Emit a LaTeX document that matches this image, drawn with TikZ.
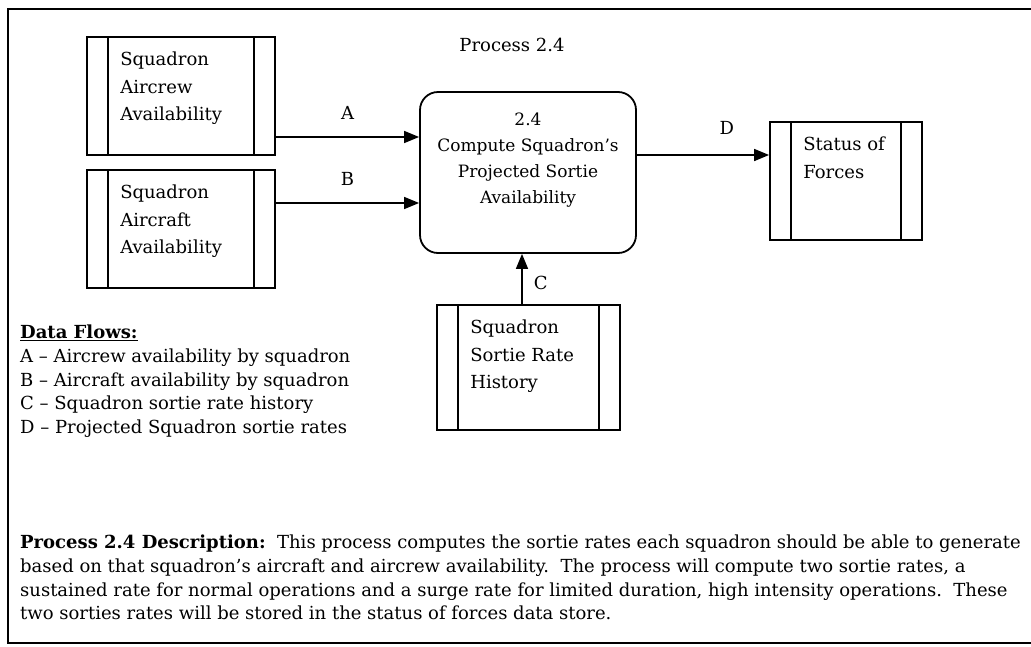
\documentclass[tikz,border=0pt]{standalone}
\usepackage{fontspec}
\setmainfont{DejaVu Serif}
\usetikzlibrary{arrows.meta,positioning}

\tikzset{
   store/.style={draw, line width=1.8pt, inner sep=0pt},
   storetext/.style={anchor=north west, align=left, inner sep=0pt, font=\fontsize{18}{27.5}\selectfont},
   process/.style={draw, line width=1.8pt, rounded corners=18pt, minimum width=216pt, minimum height=161pt, inner sep=0pt},
   flow/.style={line width=1.6pt, -{Triangle[length=15pt, width=12pt]}},
   flowlabel/.style={inner sep=0pt, font=\fontsize{18}{22}\selectfont},
   body/.style={anchor=north west, align=left, inner sep=0pt, font=\fontsize{18}{23.7}\selectfont}
}

\begin{document}
\begin{tikzpicture}[x=1pt, y=-1pt]
   \useasboundingbox (0,0) rectangle (1031,646);
   \draw[line width=2pt] (1031,9) -- (8,9) -- (8,643) -- (1031,643);

   \def \Stores {
      aircrew/181/96/188/118/{Squadron\\Aircrew\\Availability},
      aircraft/181/229/188/118/{Squadron\\Aircraft\\Availability},
      forces/846/181/152/118/{Status of\\Forces},
      history/528.5/367.5/183/125/{Squadron\\Sortie Rate\\History}}
   \foreach \u / \x / \y / \w / \h / \t in \Stores {
      \node[store, minimum width=\w pt, minimum height=\h pt] (\u) at (\x, \y) {};
      \draw[line width=1.8pt] ([xshift=22pt]\u.north west) -- ([xshift=22pt]\u.south west);
      \draw[line width=1.8pt] ([xshift=-22pt]\u.north east) -- ([xshift=-22pt]\u.south east);
      \node[storetext] (\u-text) at ([xshift=34pt, yshift=-16pt]\u.north west) {\t};
   }

   \node[process] (proc) at (528, 172.5) {};
   \node[align=center, inner sep=0pt, font=\fontsize{17}{26}\selectfont] (proc-text) at (528, 160)
      {2.4\\Compute Squadron's\\Projected Sortie\\Availability};
   \node[flowlabel] (title) at (512, 45) {Process 2.4};

   \draw[flow] ([yshift=-41pt]aircrew.east) -- ([yshift=-41pt]aircrew.east -| proc.west)
      node[flowlabel, midway, above=17pt] (la) {A};
   \draw[flow] ([yshift=26pt]aircraft.east) -- ([yshift=26pt]aircraft.east -| proc.west)
      node[flowlabel, midway, above=17pt] (lb) {B};
   \draw[flow] ([yshift=17.5pt]proc.east) -- ([yshift=17.5pt]proc.east -| forces.west)
      node[flowlabel, pos=0.68, above=20pt] (ld) {D};
   \draw[flow] ([xshift=-6.5pt]history.north) -- ([xshift=-6.5pt]history.north |- proc.south)
      node[flowlabel, pos=0.42, right=11pt] (lc) {C};

   \node[body] (flows) at (20, 325) {\underline{\textbf{Data Flows:}}\\
      A -- Aircrew availability by squadron\\
      B -- Aircraft availability by squadron\\
      C -- Squadron sortie rate history\\
      D -- Projected Squadron sortie rates};
   \node[body] (descr) at (20, 535) {\textbf{Process 2.4 Description:}\ \ This process computes the sortie rates each squadron should be able to generate\\
      based on that squadron's aircraft and aircrew availability.\ \ The process will compute two sortie rates, a\\
      sustained rate for normal operations and a surge rate for limited duration, high intensity operations.\ \ These\\
      two sorties rates will be stored in the status of forces data store.};
\end{tikzpicture}
\end{document}
